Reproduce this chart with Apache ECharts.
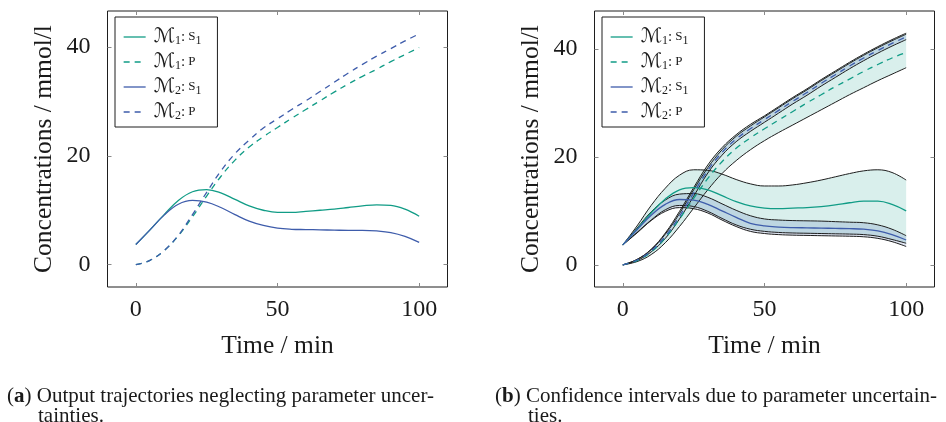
<!DOCTYPE html>
<html>
<head>
<meta charset="utf-8">
<script src="https://cdn.jsdelivr.net/npm/echarts@6/dist/echarts.min.js"></script>
<style>
  html, body { margin: 0; padding: 0; background: #fff; }
  #chart { width: 946px; height: 422px; }
</style>
</head>
<body>
<div id="chart"></div>
<script>
// Sampling times (min)
const time = [0, 5, 10, 15, 20, 25, 30, 35, 40, 45, 50, 55, 60, 65, 70, 75, 80, 85, 90, 95, 100];

// (a) nominal trajectories, mmol/l
const aM1S1 = [3.7, 6.4, 9.2, 11.8, 13.4, 13.8, 13.2, 12.0, 10.8, 10.0, 9.6, 9.6, 9.8, 10.0, 10.2, 10.5, 10.8, 11.0, 10.9, 10.2, 8.9];
const aM1P  = [0, 0.8, 2.6, 5.3, 8.8, 12.6, 16.2, 19.2, 21.6, 23.5, 25.2, 26.9, 28.5, 30.1, 31.7, 33.2, 34.6, 35.9, 37.3, 38.6, 39.9];
const aM2S1 = [3.7, 6.4, 9.1, 11.1, 11.8, 11.5, 10.5, 9.2, 8.0, 7.2, 6.7, 6.5, 6.45, 6.4, 6.35, 6.3, 6.3, 6.2, 5.9, 5.2, 4.1];
const aM2P  = [0, 0.8, 2.6, 5.4, 9.2, 13.3, 17.2, 20.4, 22.9, 25.1, 26.8, 28.5, 30.1, 31.8, 33.5, 35.2, 36.8, 38.3, 39.7, 41.1, 42.4];

// (b) mean trajectories with confidence bounds, mmol/l
const bM1S1    = [3.7, 6.6, 9.6, 12.2, 13.9, 14.3, 13.9, 12.8, 11.7, 10.9, 10.5, 10.4, 10.5, 10.6, 10.8, 11.1, 11.5, 11.8, 11.8, 11.2, 10.0];
const bM1S1Up  = [3.7, 7.2, 11.0, 14.2, 16.6, 17.6, 17.5, 16.8, 15.8, 15.0, 14.6, 14.6, 14.8, 15.2, 15.7, 16.3, 16.9, 17.4, 17.6, 17.1, 15.7];
const bM1S1Lo  = [3.7, 6.0, 8.3, 10.2, 11.0, 10.8, 9.9, 8.6, 7.4, 6.6, 6.2, 6.0, 5.9, 5.85, 5.8, 5.75, 5.7, 5.6, 5.3, 4.7, 4.0];
const bM1P     = [0, 0.8, 2.4, 5.0, 8.5, 12.3, 16.0, 19.1, 21.6, 23.5, 25.2, 26.8, 28.4, 30.0, 31.5, 33.0, 34.4, 35.8, 37.1, 38.3, 39.3];
const bM1PUp   = [0, 1.0, 2.9, 5.9, 9.9, 14.3, 18.5, 21.7, 24.1, 26.0, 27.6, 29.3, 31.0, 32.6, 34.3, 35.9, 37.5, 39.0, 40.4, 41.7, 42.9];
const bM1PLo   = [0, 0.6, 1.9, 4.1, 7.1, 10.5, 13.9, 16.9, 19.3, 21.3, 23.0, 24.5, 25.9, 27.3, 28.7, 30.1, 31.5, 32.8, 34.1, 35.3, 36.5];
const bM2S1    = [3.7, 6.5, 9.2, 11.2, 12.1, 12.0, 11.2, 10.0, 8.8, 7.7, 7.2, 7.0, 6.9, 6.85, 6.8, 6.75, 6.7, 6.6, 6.3, 5.6, 4.6];
const bM2S1Up  = [3.7, 6.8, 9.8, 12.0, 13.1, 13.2, 12.5, 11.3, 10.1, 9.1, 8.5, 8.3, 8.2, 8.15, 8.1, 8.0, 7.9, 7.8, 7.4, 6.6, 5.4];
const bM2S1Lo  = [3.7, 5.9, 8.2, 9.9, 10.6, 10.4, 9.6, 8.3, 7.1, 6.2, 5.8, 5.6, 5.5, 5.45, 5.4, 5.35, 5.3, 5.2, 4.9, 4.3, 3.4];
const bM2P     = [0, 0.9, 2.6, 5.3, 9.0, 13.3, 17.5, 20.8, 23.3, 25.2, 26.9, 28.6, 30.3, 31.9, 33.6, 35.2, 36.8, 38.3, 39.7, 41.0, 42.2];
const bM2PUp   = [0, 1.0, 2.8, 5.7, 9.5, 13.9, 18.0, 21.3, 23.8, 25.7, 27.4, 29.1, 30.8, 32.4, 34.1, 35.7, 37.3, 38.8, 40.2, 41.5, 42.7];
const bM2PLo   = [0, 0.8, 2.4, 4.9, 8.5, 12.7, 17.0, 20.3, 22.8, 24.7, 26.4, 28.1, 29.8, 31.4, 33.1, 34.7, 36.3, 37.8, 39.2, 40.5, 41.7];

// Axis ticks and labels
const xTicks = [0, 50, 100];
const yTicks = [0, 20, 40];
const xTitle = 'Time / min';
const yTitle = 'Concentrations / mmol/l';
const captionA = ['({b|a}) Output trajectories neglecting parameter uncer-', 'tainties.'];
const captionB = ['({b|b}) Confidence intervals due to parameter uncertain-', 'ties.'];

const TEAL = '#119c86';
const BLUE = '#3e5cab';
const TEAL_FILL = 'rgba(17,156,134,0.16)';
const BLUE_FILL = 'rgba(62,92,171,0.17)';
const BOUND = '#1e1e1e';
const SERIF = "'Liberation Serif', 'DejaVu Serif', serif";
const SMOOTH = 0.4;

const pairs = (ys) => time.map((t, i) => [t, ys[i]]);

const legendNames = {
  'M1S1': '{m|ℳ}{sub|1}{c|:\u2009}{s|S}{sub|1}',
  'M1P':  '{m|ℳ}{sub|1}{c|:\u2009}{s|P}',
  'M2S1': '{m|ℳ}{sub|2}{c|:\u2009}{s|S}{sub|1}',
  'M2P':  '{m|ℳ}{sub|2}{c|:\u2009}{s|P}'
};

const grids = [
  { left: 107.5, top: 11, width: 340, height: 276 },
  { left: 594.5, top: 11, width: 340, height: 276 }
];

const tickStyle = { show: true, inside: true, length: 4, lineStyle: { color: '#8a8a8a', width: 1 } };

function bottomX(gi) {
  return {
    type: 'value', gridIndex: gi, min: -10, max: 110, position: 'bottom',
    name: xTitle, nameLocation: 'middle', nameGap: 46,
    nameTextStyle: { fontFamily: SERIF, fontSize: 25.5, color: '#1a1a1a' },
    axisLine: { show: false, onZero: false }, splitLine: { show: false },
    axisTick: Object.assign({ customValues: xTicks }, tickStyle),
    axisLabel: { show: true, customValues: xTicks, margin: 11, fontFamily: SERIF, fontSize: 24, color: '#1a1a1a' }
  };
}
function topX(gi) {
  return {
    type: 'value', gridIndex: gi, min: -10, max: 110, position: 'top',
    axisLine: { show: false, onZero: false }, splitLine: { show: false },
    axisTick: Object.assign({ customValues: xTicks }, tickStyle),
    axisLabel: { show: false }
  };
}
function leftY(gi, min, max) {
  return {
    type: 'value', gridIndex: gi, min: min, max: max, position: 'left',
    name: yTitle, nameLocation: 'middle', nameGap: 50, nameRotate: 90,
    nameTextStyle: { fontFamily: SERIF, fontSize: 25.5, color: '#1a1a1a' },
    axisLine: { show: false, onZero: false }, splitLine: { show: false },
    axisTick: Object.assign({ customValues: yTicks }, tickStyle),
    axisLabel: { show: true, customValues: yTicks, margin: 17, fontFamily: SERIF, fontSize: 24, color: '#1a1a1a' }
  };
}
function rightY(gi, min, max) {
  return {
    type: 'value', gridIndex: gi, min: min, max: max, position: 'right',
    axisLine: { show: false, onZero: false }, splitLine: { show: false },
    axisTick: Object.assign({ customValues: yTicks }, tickStyle),
    axisLabel: { show: false }
  };
}

function meanLine(name, ys, color, dashed, xi, yi) {
  return {
    name: name, type: 'line', xAxisIndex: xi, yAxisIndex: yi,
    data: pairs(ys), smooth: SMOOTH, showSymbol: false, symbol: 'none', z: 5,
    lineStyle: { color: color, width: 1.3, type: dashed ? [6, 5] : 'solid' },
    itemStyle: { color: color }, emphasis: { disabled: true }
  };
}
function boundLine(ys, xi, yi) {
  return {
    name: 'bound', type: 'line', xAxisIndex: xi, yAxisIndex: yi,
    data: pairs(ys), smooth: SMOOTH, showSymbol: false, symbol: 'none', z: 4,
    lineStyle: { color: BOUND, width: 1 }, emphasis: { disabled: true }, silent: true
  };
}

// Smoothed path through screen points, same scheme as a smoothed line series
function smoothPath(pts, ctxStart) {
  let d = '';
  let cp0x = pts[0][0], cp0y = pts[0][1];
  d += (ctxStart ? 'M' : 'L') + pts[0][0] + ',' + pts[0][1];
  for (let i = 1; i < pts.length; i++) {
    const [x, y] = pts[i];
    const [px, py] = pts[i - 1];
    let c1x, c1y, ncx, ncy;
    if (i < pts.length - 1) {
      const [nx, ny] = pts[i + 1];
      const vx = nx - px, vy = ny - py;
      const lp = Math.hypot(x - px, y - py);
      const ln = Math.hypot(nx - x, ny - y);
      const r = ln / (ln + lp || 1);
      c1x = x - vx * SMOOTH * (1 - r); c1y = y - vy * SMOOTH * (1 - r);
      ncx = x + vx * SMOOTH * r; ncy = y + vy * SMOOTH * r;
    } else {
      c1x = x; c1y = y; ncx = x; ncy = y;
    }
    d += 'C' + cp0x + ',' + cp0y + ',' + c1x + ',' + c1y + ',' + x + ',' + y;
    cp0x = ncx; cp0y = ncy;
  }
  return d;
}

// Confidence band: filled region between lower and upper bound
function band(lo, hi, fill, xi, yi) {
  return {
    name: 'band', type: 'custom', xAxisIndex: xi, yAxisIndex: yi, z: 2, silent: true,
    data: time.map((t, i) => [t, lo[i], hi[i]]),
    encode: { x: 0, y: [1, 2] },
    renderItem: function (params, api) {
      if (params.dataIndex !== 0) return null;
      const n = params.dataInsideLength;
      const upper = [], lower = [];
      for (let i = 0; i < n; i++) {
        const t = api.value(0, i);
        upper.push(api.coord([t, api.value(2, i)]));
        lower.push(api.coord([t, api.value(1, i)]));
      }
      const d = smoothPath(upper, true) + smoothPath(lower.slice().reverse(), false) + 'Z';
      return {
        type: 'path',
        shape: { pathData: d },
        style: { fill: fill, stroke: null },
        clipPath: { type: 'rect', shape: { x: params.coordSys.x, y: params.coordSys.y, width: params.coordSys.width, height: params.coordSys.height } }
      };
    }
  };
}

function legendFor(gi) {
  const hide = { opacity: 0 };
  return {
    show: true, orient: 'vertical',
    left: grids[gi].left + 7.5, top: 17,
    padding: [10, 16, 5, 8],
    itemWidth: 22, itemHeight: 12, itemGap: 5,
    backgroundColor: '#fff', borderColor: '#1e1e1e', borderWidth: 1, borderRadius: 0,
    selectedMode: false,
    data: [
      { name: 'M1S1', itemStyle: hide, lineStyle: { color: TEAL, width: 1.3, type: 'solid' } },
      { name: 'M1P', itemStyle: hide, lineStyle: { color: TEAL, width: 1.3, type: [6, 5] } },
      { name: 'M2S1', itemStyle: hide, lineStyle: { color: BLUE, width: 1.3, type: 'solid' } },
      { name: 'M2P', itemStyle: hide, lineStyle: { color: BLUE, width: 1.3, type: [6, 5] } }
    ],
    formatter: (n) => legendNames[n],
    textStyle: {
      fontFamily: SERIF, fontSize: 15, color: '#1a1a1a', padding: [0, 0, 0, 3],
      rich: {
        m: { fontFamily: "'DejaVu Serif', 'DejaVu Sans', serif", fontSize: 20, fontStyle: 'italic', color: '#1a1a1a' },
        sub: { fontFamily: SERIF, fontSize: 12, color: '#1a1a1a', padding: [8, 0, 0, 0] },
        c: { fontFamily: SERIF, fontSize: 15, color: '#1a1a1a' },
        s: { fontFamily: SERIF, fontSize: 13, color: '#1a1a1a' }
      }
    }
  };
}

function caption(lines, x1, x2) {
  const rich = { b: { fontFamily: SERIF, fontSize: 21, fontWeight: 'bold', color: '#1a1a1a' } };
  return [
    { type: 'text', left: x1, top: 386, silent: true,
      style: { text: lines[0], fontFamily: SERIF, fontSize: 21, fill: '#1a1a1a', rich: rich } },
    { type: 'text', left: x2, top: 406, silent: true,
      style: { text: lines[1], fontFamily: SERIF, fontSize: 21, fill: '#1a1a1a' } }
  ];
}

const series = [
  // (a)
  meanLine('M1S1', aM1S1, TEAL, false, 0, 0),
  meanLine('M1P', aM1P, TEAL, true, 0, 0),
  meanLine('M2S1', aM2S1, BLUE, false, 0, 0),
  meanLine('M2P', aM2P, BLUE, true, 0, 0),
  // (b) confidence bands
  band(bM1S1Lo, bM1S1Up, TEAL_FILL, 1, 1),
  band(bM1PLo, bM1PUp, TEAL_FILL, 1, 1),
  band(bM2S1Lo, bM2S1Up, BLUE_FILL, 1, 1),
  band(bM2PLo, bM2PUp, BLUE_FILL, 1, 1),
  boundLine(bM1S1Lo, 1, 1), boundLine(bM1S1Up, 1, 1),
  boundLine(bM1PLo, 1, 1), boundLine(bM1PUp, 1, 1),
  boundLine(bM2S1Lo, 1, 1), boundLine(bM2S1Up, 1, 1),
  boundLine(bM2PLo, 1, 1), boundLine(bM2PUp, 1, 1),
  meanLine('M1S1', bM1S1, TEAL, false, 1, 1),
  meanLine('M1P', bM1P, TEAL, true, 1, 1),
  meanLine('M2S1', bM2S1, BLUE, false, 1, 1),
  meanLine('M2P', bM2P, BLUE, true, 1, 1)
];

const chart = echarts.init(document.getElementById('chart'), null, { renderer: 'canvas' });
chart.setOption({
  animation: false,
  backgroundColor: '#fff',
  grid: grids.map(g => Object.assign({ show: true, borderColor: '#1e1e1e', borderWidth: 1, backgroundColor: 'transparent', containLabel: false }, g)),
  xAxis: [bottomX(0), bottomX(1), topX(0), topX(1)],
  yAxis: [leftY(0, -4.1, 46.6), leftY(1, -4.1, 47.0), rightY(0, -4.1, 46.6), rightY(1, -4.1, 47.0)],
  legend: [legendFor(0), legendFor(1)],
  graphic: [...caption(captionA, 7, 38), ...caption(captionB, 495, 528)],
  series: series
});
</script>
</body>
</html>
